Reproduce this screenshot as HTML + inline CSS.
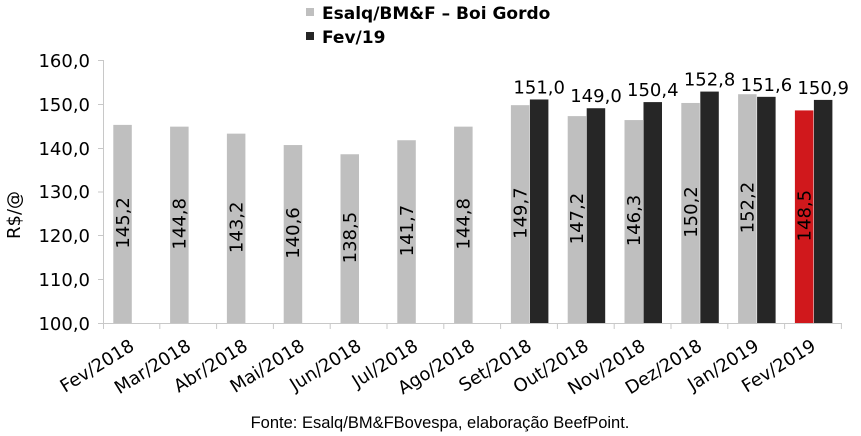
<!DOCTYPE html>
<html><head><meta charset="utf-8"><style>
html,body{margin:0;padding:0;background:#fff;}
svg{display:block;}
text{font-family:"DejaVu Sans","Liberation Sans",sans-serif;fill:#000;}
</style></head><body>
<svg width="861" height="436" xmlns="http://www.w3.org/2000/svg">
<rect x="306" y="8" width="8" height="8" fill="#bfbfbf"/>
<rect x="306" y="32" width="8" height="8" fill="#262626"/>
<text x="322" y="19" font-size="17" font-weight="bold">Esalq/BM&amp;F – Boi Gordo</text>
<text x="322" y="43" font-size="17" font-weight="bold">Fev/19</text>
<g stroke="#c8c8c8" stroke-width="1">
<line x1="103.5" y1="60" x2="103.5" y2="323"/>
<line x1="98" y1="60.5" x2="103" y2="60.5"/>
<line x1="98" y1="104.5" x2="103" y2="104.5"/>
<line x1="98" y1="148.5" x2="103" y2="148.5"/>
<line x1="98" y1="192" x2="103" y2="192"/>
<line x1="98" y1="235.5" x2="103" y2="235.5"/>
<line x1="98" y1="279.5" x2="103" y2="279.5"/>
<line x1="98" y1="323.5" x2="842" y2="323.5"/>
<line x1="103.5" y1="323" x2="103.5" y2="329"/>
<line x1="159.8" y1="323" x2="159.8" y2="329"/>
<line x1="216.6" y1="323" x2="216.6" y2="329"/>
<line x1="273.4" y1="323" x2="273.4" y2="329"/>
<line x1="330.2" y1="323" x2="330.2" y2="329"/>
<line x1="387" y1="323" x2="387" y2="329"/>
<line x1="443.8" y1="323" x2="443.8" y2="329"/>
<line x1="500.6" y1="323" x2="500.6" y2="329"/>
<line x1="557.4" y1="323" x2="557.4" y2="329"/>
<line x1="614.2" y1="323" x2="614.2" y2="329"/>
<line x1="671" y1="323" x2="671" y2="329"/>
<line x1="727.8" y1="323" x2="727.8" y2="329"/>
<line x1="784.6" y1="323" x2="784.6" y2="329"/>
<line x1="841.4" y1="323" x2="841.4" y2="329"/>
</g>
<g font-size="18" text-anchor="end">
<text x="90" y="67">160,0</text>
<text x="90" y="111">150,0</text>
<text x="90" y="155">140,0</text>
<text x="90" y="198">130,0</text>
<text x="90" y="242">120,0</text>
<text x="90" y="286">110,0</text>
<text x="90" y="330">100,0</text>
</g>
<text transform="translate(20,215) rotate(-90)" font-size="18" text-anchor="middle">R$/@</text>

<g fill="#bfbfbf">
<rect x="113.3" y="124.89" width="18.5" height="198.11"/>
<rect x="170.1" y="126.64" width="18.5" height="196.36"/>
<rect x="226.9" y="133.65" width="18.5" height="189.35"/>
<rect x="283.7" y="145.05" width="18.5" height="177.95"/>
<rect x="340.5" y="154.25" width="18.5" height="168.75"/>
<rect x="397.3" y="140.23" width="18.5" height="182.77"/>
<rect x="454.1" y="126.64" width="18.5" height="196.36"/>
<rect x="510.9" y="105.16" width="18.5" height="217.84"/>
<rect x="567.7" y="116.12" width="18.5" height="206.88"/>
<rect x="624.5" y="120.07" width="18.5" height="202.93"/>
<rect x="681.3" y="102.97" width="18.5" height="220.03"/>
<rect x="738.1" y="94.21" width="18.5" height="228.79"/>
</g>
<rect x="794.9" y="110.42" width="18.5" height="212.58" fill="#d0181c"/>
<g fill="#262626">
<rect x="529.9" y="99.47" width="18.5" height="223.53"/>
<rect x="586.7" y="108.23" width="18.5" height="214.77"/>
<rect x="643.5" y="102.10" width="18.5" height="220.90"/>
<rect x="700.3" y="91.58" width="18.5" height="231.42"/>
<rect x="757.1" y="96.84" width="18.5" height="226.16"/>
<rect x="813.9" y="99.91" width="18.5" height="223.09"/>
</g>

<g font-size="18" text-anchor="middle">
<text transform="translate(128.8,222.9) rotate(-90)">145,2</text>
<text transform="translate(185.6,223.8) rotate(-90)">144,8</text>
<text transform="translate(242.4,227.3) rotate(-90)">143,2</text>
<text transform="translate(299.2,233.0) rotate(-90)">140,6</text>
<text transform="translate(356.0,237.6) rotate(-90)">138,5</text>
<text transform="translate(412.8,230.6) rotate(-90)">141,7</text>
<text transform="translate(469.6,223.8) rotate(-90)">144,8</text>
<text transform="translate(526.4,213.1) rotate(-90)">149,7</text>
<text transform="translate(583.2,218.6) rotate(-90)">147,2</text>
<text transform="translate(640.0,220.5) rotate(-90)">146,3</text>
<text transform="translate(696.8,212.0) rotate(-90)">150,2</text>
<text transform="translate(753.6,207.6) rotate(-90)">152,2</text>
<text transform="translate(810.4,215.7) rotate(-90)">148,5</text>
<text x="539.2" y="93.5">151,0</text>
<text x="596.0" y="102.2">149,0</text>
<text x="652.8" y="96.1">150,4</text>
<text x="709.6" y="85.6">152,8</text>
<text x="766.4" y="90.8">151,6</text>
<text x="823.2" y="93.9">150,9</text>
</g>

<g font-size="18" text-anchor="end">
<text transform="translate(135.4,349) rotate(-32)">Fev/2018</text>
<text transform="translate(192.2,349) rotate(-32)">Mar/2018</text>
<text transform="translate(249,349) rotate(-32)">Abr/2018</text>
<text transform="translate(305.8,349) rotate(-32)">Mai/2018</text>
<text transform="translate(362.6,349) rotate(-32)">Jun/2018</text>
<text transform="translate(419.4,349) rotate(-32)">Jul/2018</text>
<text transform="translate(476.2,349) rotate(-32)">Ago/2018</text>
<text transform="translate(533,349) rotate(-32)">Set/2018</text>
<text transform="translate(589.8,349) rotate(-32)">Out/2018</text>
<text transform="translate(646.6,349) rotate(-32)">Nov/2018</text>
<text transform="translate(703.4,349) rotate(-32)">Dez/2018</text>
<text transform="translate(760.2,349) rotate(-32)">Jan/2019</text>
<text transform="translate(817,349) rotate(-32)">Fev/2019</text>
</g>

<text x="440" y="428" font-size="16.5" text-anchor="middle" style="font-family:'Liberation Sans',sans-serif">Fonte: Esalq/BM&amp;FBovespa, elaboração BeefPoint.</text>
</svg>
</body></html>
